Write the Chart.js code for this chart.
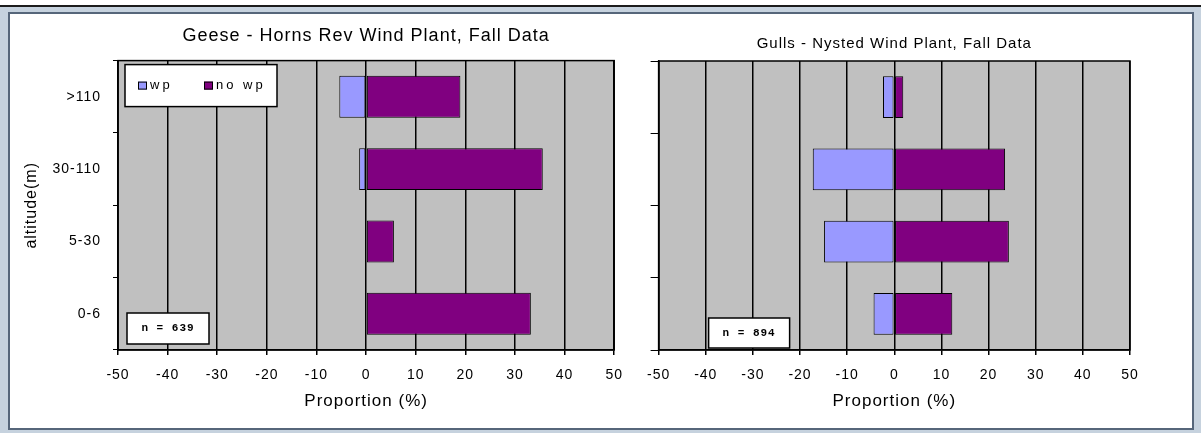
<!DOCTYPE html>
<html>
<head>
<meta charset="utf-8">
<script src="https://cdn.jsdelivr.net/npm/chart.js@4.4.0/dist/chart.umd.min.js"></script>
<style>
    body { margin: 0; background: #fff; width: 1201px; height: 433px; overflow: hidden; }
    #frame { position: absolute; left: 0; top: 5px; width: 1201px; height: 426px; background: #c6d2de; border-top: 2px solid #1c1c1c; }
    #panel { position: absolute; left: 8px; top: 12px; width: 1182px; height: 414px; background: #fff; border: 2px solid #56667a; }
    #geeseChart { position: absolute; left: 10px; top: 14px; }
    #gullsChart { position: absolute; left: 635px; top: 14px; }
</style>
</head>
<body>
<div id="frame"></div>
<div id="panel"></div>
<canvas id="geeseChart" width="625" height="414"></canvas>
<canvas id="gullsChart" width="557" height="414"></canvas>
<script>
const altitudeLabels = ['>110', '30-110', '5-30', '0-6'];
const proportionTicks = [-50, -40, -30, -20, -10, 0, 10, 20, 30, 40, 50];
const seriesNames = ['wp', 'no wp'];
const seriesColors = ['#9999ff', '#800080'];

// geese (Horns Rev)
const geeseWp = [-5.4, -1.4, 0, 0];
const geeseNoWp = [19, 35.6, 5.6, 33.2];
// gulls (Nysted)
const gullsWp = [-2.4, -17.3, -14.9, -4.4];
const gullsNoWp = [1.9, 23.5, 24.3, 12.3];

const geeseTitle = 'Geese - Horns Rev Wind Plant, Fall Data';
const gullsTitle = 'Gulls - Nysted Wind Plant, Fall Data';
const geeseN = 'n = 639';
const gullsN = 'n = 894';

Chart.defaults.font.family = '"Liberation Sans", Arial, sans-serif';
Chart.defaults.color = '#000';

// old excel font is wide, so space the letters a bit
var textSpacing = {
    id: 'textSpacing',
    beforeUpdate(chart) { chart.ctx.letterSpacing = '1px'; },
    beforeDraw(chart) { chart.ctx.letterSpacing = '1px'; }
};

var plotFrame = {
    id: 'plotFrame',
    beforeDraw(chart) {
        const a = chart.chartArea;
        const ctx = chart.ctx;
        ctx.save();
        ctx.fillStyle = '#c0c0c0';
        ctx.fillRect(a.left, a.top, a.right - a.left, a.bottom - a.top);
        ctx.restore();
    },
    afterDatasetsDraw(chart, args, opts) {
        const a = chart.chartArea;
        const ctx = chart.ctx;
        ctx.save();
        ctx.strokeStyle = '#000';
        ctx.lineWidth = 1.5;
        ctx.strokeRect(a.left, a.top, a.right - a.left, a.bottom - a.top);

        // sample size box
        const nb = opts.nBox;
        const nx = a.left + nb.dx, ny = a.bottom - nb.dy;
        ctx.fillStyle = '#fff';
        ctx.fillRect(nx, ny, nb.w, nb.h);
        ctx.strokeRect(nx, ny, nb.w, nb.h);
        ctx.fillStyle = '#000';
        ctx.font = 'bold 11px "Liberation Mono", "DejaVu Sans Mono", monospace';
        ctx.letterSpacing = '1px';
        ctx.textAlign = 'center';
        ctx.textBaseline = 'middle';
        ctx.fillText(opts.nText, nx + nb.w / 2, ny + nb.h / 2);

        // legend box inside the plot
        if (opts.legendBox) {
            const lb = opts.legendBox;
            const lx = a.left + lb.dx, ly = a.top + lb.dy;
            ctx.fillStyle = '#fff';
            ctx.fillRect(lx, ly, lb.w, lb.h);
            ctx.strokeRect(lx, ly, lb.w, lb.h);
            ctx.font = '13px "Liberation Sans", Arial, sans-serif';
            ctx.letterSpacing = '3px';
            ctx.textAlign = 'left';
            ctx.lineWidth = 1;
            const itemX = [13, 79];
            chart.data.datasets.forEach(function (ds, i) {
                const sx = lx + itemX[i];
                ctx.fillStyle = ds.backgroundColor;
                ctx.fillRect(sx, ly + 17, 9, 8);
                ctx.strokeStyle = '#000';
                ctx.strokeRect(sx + 0.5, ly + 17.5, 8, 7);
                ctx.fillStyle = '#000';
                ctx.fillText(ds.label, sx + 12, ly + 21);
            });
        }
        ctx.restore();
    }
};

function makeChart(canvasId, opts) {
    var ctx = document.getElementById(canvasId).getContext('2d');
    return new Chart(ctx, {
        type: 'bar',
        data: {
            labels: altitudeLabels,
            datasets: [{
                label: seriesNames[0],
                data: opts.wp,
                backgroundColor: seriesColors[0],
                borderColor: '#000',
                borderWidth: 1,
                borderSkipped: false,
                barPercentage: 0.58,
                categoryPercentage: 1
            }, {
                label: seriesNames[1],
                data: opts.noWp,
                backgroundColor: seriesColors[1],
                borderColor: '#000',
                borderWidth: 1,
                borderSkipped: false,
                barPercentage: 0.58,
                categoryPercentage: 1
            }]
        },
        options: {
            indexAxis: 'y',
            responsive: false,
            animation: false,
            layout: { padding: { left: 0, right: opts.padRight, top: 0, bottom: 0 } },
            plugins: {
                legend: { display: false },
                tooltip: { enabled: false },
                title: {
                    display: true,
                    text: opts.title,
                    fullSize: false,
                    color: '#000',
                    font: { size: opts.titleSize, weight: 'normal' },
                    padding: { top: opts.titleTop, bottom: opts.titleBottom }
                },
                plotFrame: {
                    nText: opts.nText,
                    nBox: opts.nBox,
                    legendBox: opts.legendBox
                }
            },
            scales: {
                x: {
                    stacked: true,
                    min: proportionTicks[0],
                    max: proportionTicks[proportionTicks.length - 1],
                    ticks: { stepSize: proportionTicks[1] - proportionTicks[0], font: { size: 14 }, padding: 12, maxRotation: 0 },
                    grid: { color: '#000', lineWidth: 1.5, tickLength: 5 },
                    border: { color: '#000', width: 1.5 },
                    title: { display: true, text: 'Proportion (%)', font: { size: 17 }, padding: { bottom: 16 } },
                    afterFit: function (scale) { scale.height = 78; }
                },
                y: {
                    stacked: true,
                    ticks: { display: opts.yLabels, font: { size: 14 }, padding: 12 },
                    grid: { drawOnChartArea: false, offset: true, tickLength: opts.yTick, color: '#000' },
                    border: { color: '#000', width: 1.5 },
                    title: { display: opts.yLabels, text: 'altitude(m)', font: { size: 16 }, padding: { top: 12 } },
                    afterFit: function (scale) { scale.width = opts.yWidth; }
                }
            }
        },
        plugins: [textSpacing, plotFrame]
    });
}

var geeseChart = makeChart('geeseChart', {
    wp: geeseWp,
    noWp: geeseNoWp,
    title: geeseTitle,
    titleSize: 18,
    titleTop: 11,
    titleBottom: 14,
    padRight: 17,
    yWidth: 108,
    yLabels: true,
    yTick: 5,
    nText: geeseN,
    nBox: { dx: 9, dy: 37, w: 82, h: 31 },
    legendBox: { dx: 7, dy: 4, w: 152, h: 42 }
});

var gullsChart = makeChart('gullsChart', {
    wp: gullsWp,
    noWp: gullsNoWp,
    title: gullsTitle,
    titleSize: 15,
    titleTop: 21,
    titleBottom: 8,
    padRight: 62,
    yWidth: 13,
    yLabels: false,
    yTick: 8,
    nText: gullsN,
    nBox: { dx: 50, dy: 32, w: 81, h: 30 },
    legendBox: null
});
</script>
</body>
</html>
